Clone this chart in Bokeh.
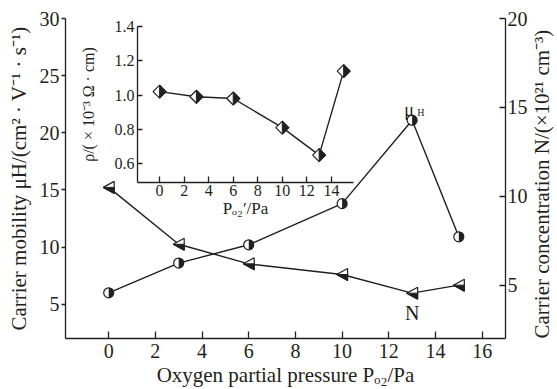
import math
from bokeh.plotting import figure
from bokeh.models import Range1d, LinearAxis, FixedTicker, PrintfTickFormatter
from bokeh.embed import file_html
from bokeh.resources import INLINE
from bokeh.core.properties import value

# ---------------- data ----------------
pressure = [0, 3, 6, 10, 13, 15]
mobility = [6.0, 8.6, 10.2, 13.8, 21.1, 10.9]
concentration = [10.5, 7.3, 6.2, 5.6, 4.55, 5.0]
resistivity = [1.02, 0.99, 0.98, 0.81, 0.65, 1.14]

x_ticks = [0, 2, 4, 6, 8, 10, 12, 14, 16]
mob_ticks = [5, 10, 15, 20, 25, 30]
conc_ticks = [5, 10, 15, 20]
inset_x_ticks = [0, 2, 4, 6, 8, 10, 12, 14]
inset_y_ticks = [0.6, 0.8, 1.0, 1.2, 1.4]

# ---------------- style ----------------
INK = "#231f20"
FONT = "'Liberation Serif', serif"
FW, FH = 440, 320
X0, X1 = -1.85, 17.0
YM0, YM1 = 2.0, 30.0
YN0, YN1 = 2.0, 20.0
# inset box in frame pixels (left offset, top offset, width, height)
IN_L, IN_T, IN_W, IN_H = 72, 8, 216, 156
IX0, IX1 = -1.8, 15.8
IY0, IY1 = 0.49, 1.4

kx = FW / (X1 - X0)
kym = FH / (YM1 - YM0)
kyn = FH / (YN1 - YN0)
ikx = IN_W / (IX1 - IX0)
iky = IN_H / (IY1 - IY0)
ix_start = IX0 - IN_L / ikx
ix_end = ix_start + FW / ikx
iy_end = IY1 + IN_T / iky
iy_start = iy_end - FH / iky

p = figure(frame_width=FW, frame_height=FH,
           x_range=Range1d(X0, X1), y_range=Range1d(YM0, YM1),
           output_backend="svg", toolbar_location=None,
           min_border_left=65, min_border_right=52,
           min_border_top=18, min_border_bottom=51)
p.outline_line_color = None
p.xgrid.visible = False
p.ygrid.visible = False
p.background_fill_color = "white"
p.border_fill_color = "white"

p.extra_y_ranges = {"N": Range1d(YN0, YN1), "iy": Range1d(iy_start, iy_end)}
p.extra_x_ranges = {"ix": Range1d(ix_start, ix_end)}


def style_axis(ax, tick_size, label_size):
    ax.axis_line_color = INK
    ax.axis_line_width = 1.3
    ax.major_tick_line_color = INK
    ax.major_tick_line_width = 1.3
    ax.minor_tick_line_color = None
    ax.major_label_text_font = FONT
    ax.major_label_text_font_size = f"{tick_size}px"
    ax.major_label_text_color = INK
    ax.axis_label_text_font = FONT
    ax.axis_label_text_font_size = f"{label_size}px"
    ax.axis_label_text_font_style = "normal"
    ax.axis_label_text_color = INK


# main bottom axis
xa = p.xaxis[0]
style_axis(xa, 20, 21)
xa.ticker = FixedTicker(ticks=x_ticks)
xa.major_tick_in = 7
xa.major_tick_out = 0
xa.major_label_standoff = 5
xa.axis_label = "Oxygen partial pressure Pₒ₂/Pa"
xa.axis_label_standoff = 2

# main left axis
ya = p.yaxis[0]
style_axis(ya, 20, 21)
ya.ticker = FixedTicker(ticks=mob_ticks)
ya.major_tick_in = 0
ya.major_tick_out = 4
ya.major_label_standoff = 2
ya.axis_label = "Carrier mobility μH/(cm² · V⁻¹ · s⁻¹)"
ya.axis_label_standoff = 6

# main right axis
ra = LinearAxis(y_range_name="N", ticker=FixedTicker(ticks=conc_ticks))
style_axis(ra, 20, 21)
ra.major_tick_in = 6
ra.major_tick_out = 0
ra.major_label_standoff = 2
ra.axis_label = "Carrier concentration N/(×10²¹ cm⁻³)"
ra.axis_label_standoff = 11
if hasattr(ra, "axis_label_orientation"):
    ra.axis_label_orientation = math.pi / 2
if hasattr(ra, "axis_label_align"):
    try:
        ra.axis_label_align = "start"
    except Exception:
        pass
p.add_layout(ra, "right")

# inset axes
ila = LinearAxis(x_range_name="ix", y_range_name="iy", fixed_location=IX0,
                 bounds=(IY0, IY1), ticker=FixedTicker(ticks=inset_y_ticks),
                 formatter=PrintfTickFormatter(format="%.1f"))
style_axis(ila, 16, 16)
ila.major_tick_in = 5
ila.major_tick_out = 0
ila.major_label_standoff = 3
ila.axis_label = "ρ/( × 10⁻³ Ω · cm)"
ila.axis_label_standoff = 15
p.add_layout(ila, "left")

iba = LinearAxis(x_range_name="ix", y_range_name="iy", fixed_location=IY0,
                 bounds=(IX0, IX1), ticker=FixedTicker(ticks=inset_x_ticks))
style_axis(iba, 16, 17)
iba.major_tick_in = 6
iba.major_tick_out = 0
iba.major_label_standoff = 2
iba.axis_label = "Pₒ₂′/Pa"
iba.axis_label_standoff = 0
p.add_layout(iba, "below")

# ---------------- series ----------------
LW = 1.4
p.line(pressure, mobility, line_color=INK, line_width=LW)
p.line(pressure, concentration, line_color=INK, line_width=LW, y_range_name="N")
p.line(pressure, resistivity, line_color=INK, line_width=LW,
       x_range_name="ix", y_range_name="iy")

# half-filled circles (mobility)
p.scatter(pressure, mobility, marker="circle", size=10, fill_color="white",
          line_color=INK, line_width=1.2)
p.wedge(x=pressure, y=mobility, radius=5, radius_units="screen",
        start_angle=-math.pi / 2, end_angle=math.pi / 2,
        fill_color=INK, line_color=None)

# half-filled left-pointing triangles (concentration)
tw, th = 11, 12
tri_xs = [[x - tw / 2 / kx, x + tw / 2 / kx, x + tw / 2 / kx] for x in pressure]
tri_ys = [[y, y - th / 2 / kyn, y + th / 2 / kyn] for y in concentration]
half_ys = [[y, y - th / 2 / kyn, y] for y in concentration]
p.patches(tri_xs, tri_ys, fill_color="white", line_color=INK, line_width=1.2,
          y_range_name="N")
p.patches(tri_xs, half_ys, fill_color=INK, line_color=INK, line_width=1.0,
          y_range_name="N")

# half-filled diamonds (resistivity)
dr = 6.5
dia_xs = [[x, x + dr / ikx, x, x - dr / ikx] for x in pressure]
dia_ys = [[y + dr / iky, y, y - dr / iky, y] for y in resistivity]
hd_xs = [[x, x + dr / ikx, x] for x in pressure]
hd_ys = [[y + dr / iky, y, y - dr / iky] for y in resistivity]
p.patches(dia_xs, dia_ys, fill_color="white", line_color=INK, line_width=1.2,
          x_range_name="ix", y_range_name="iy")
p.patches(hd_xs, hd_ys, fill_color=INK, line_color=INK, line_width=1.0,
          x_range_name="ix", y_range_name="iy")

# series labels
p.text(x=[pressure[4]], y=[mobility[4]], text=["μ"], x_offset=-3, y_offset=-10,
       text_font=value(FONT), text_font_size="18px", text_color=INK,
       text_align="center", text_baseline="alphabetic")
p.text(x=[pressure[4]], y=[mobility[4]], text=["H"], x_offset=5, y_offset=-8,
       text_font=value(FONT), text_font_size="10px", text_color=INK,
       text_align="left", text_baseline="alphabetic")
p.text(x=[pressure[4]], y=[concentration[4]], text=["N"], x_offset=0, y_offset=20,
       text_font=value(FONT), text_font_size="20px", text_color=INK,
       text_align="center", text_baseline="middle", y_range_name="N")

open("out.html", "w").write(file_html(p, INLINE))
